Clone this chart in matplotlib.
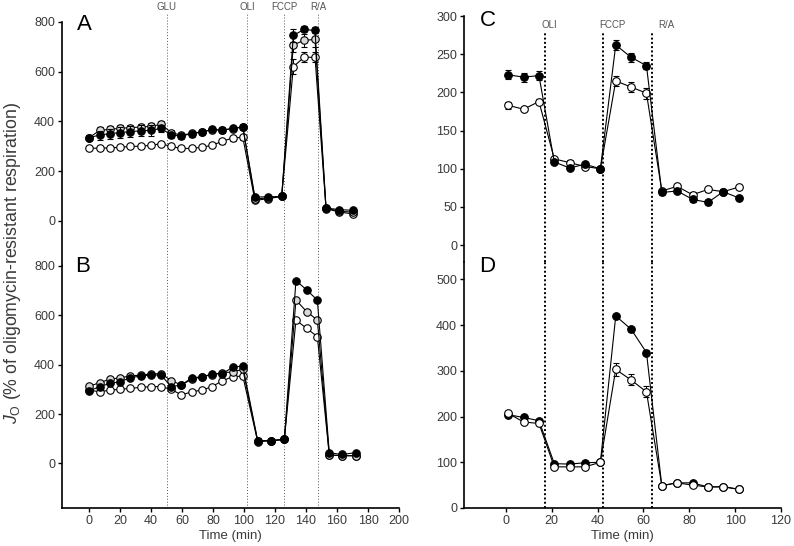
import matplotlib
matplotlib.use("Agg")
import matplotlib.pyplot as plt
import numpy as np

plt.rcParams['font.family'] = ['Liberation Sans', 'DejaVu Sans']
plt.rcParams['mathtext.fontset'] = 'custom'
plt.rcParams['mathtext.rm'] = 'Liberation Sans'
plt.rcParams['mathtext.it'] = 'Liberation Sans:italic'

# ---------------- data ----------------
# Panel A (left, top)
time_A = [0.2, 6.8, 13.4, 20.0, 26.6, 33.2, 39.8, 46.4, 53.0, 59.6, 66.2, 72.8, 79.4, 86.0, 92.6, 99.2,
          107.0, 115.7, 124.3, 131.8, 138.7, 145.8, 152.9, 161.5, 170.1]
A_black = [335, 345, 351, 355, 359, 362, 364, 372, 345, 341, 351, 357, 368, 364, 372, 377,
           96, 96, 98, 746, 770, 766, 51, 45, 42]
A_grey = [335, 364, 368, 372, 375, 377, 380, 388, 355, 344, 352, 358, 366, 366, 370, 378,
          88, 92, 98, 708, 726, 730, 51, 38, 35]
A_white = [291, 293, 293, 296, 299, 300, 304, 310, 299, 291, 291, 296, 304, 320, 333, 336,
           82, 89, 98, 620, 658, 658, 49, 35, 28]
A_black_err = [10, 18, 20, 22, 22, 22, 22, 15, 12, 12, 12, 10, 10, 10, 10, 10,
               8, 8, 6, 25, 12, 12, 6, 6, 6]
A_grey_err = [10, 12, 12, 12, 12, 12, 12, 12, 10, 10, 10, 10, 10, 10, 10, 10,
              6, 6, 6, 30, 25, 30, 6, 6, 6]
A_white_err = [8, 8, 8, 8, 8, 8, 8, 8, 8, 8, 8, 8, 8, 10, 10, 10,
               6, 6, 6, 30, 20, 20, 6, 6, 6]

# Panel B (left, bottom)
time_B = [0.2, 6.8, 13.4, 20.0, 26.6, 33.2, 39.8, 46.4, 53.0, 59.6, 66.2, 72.8, 79.4, 86.0, 92.6, 99.2,
          108.8, 117.2, 126.0, 133.5, 140.4, 147.3, 155.0, 163.0, 172.0]
B_black = [294, 311, 324, 331, 347, 354, 358, 358, 311, 318, 346, 351, 362, 364, 389, 395,
           92, 92, 97, 741, 703, 662, 43, 36, 43]
B_grey = [313, 327, 341, 347, 354, 358, 362, 364, 335, 318, 341, 351, 360, 367, 371, 381,
          90, 92, 97, 662, 615, 581, 34, 31, 31]
B_white = [297, 290, 297, 300, 304, 308, 311, 311, 300, 277, 290, 297, 311, 335, 351, 354,
           88, 92, 97, 581, 547, 514, 34, 31, 31]

# Panel C (right, top)
time_CD = [1.0, 7.7, 14.4, 21.1, 27.8, 34.5, 41.2, 47.9, 54.6, 61.3, 68.0, 74.7, 81.4, 88.1, 94.8, 101.5]
C_black = [223, 220, 222, 109, 101, 106, 100, 262, 246, 235, 69, 71, 60, 56, 70, 62]
C_white = [183, 178, 188, 113, 108, 103, 100, 215, 207, 199, 71, 77, 66, 73, 70, 76]
C_black_err = [6, 6, 6, 3, 3, 3, 3, 7, 6, 5, 3, 3, 3, 3, 3, 3]
C_white_err = [5, 3, 3, 3, 3, 3, 3, 7, 6, 7, 3, 3, 3, 3, 3, 3]

# Panel D (right, bottom)
D_black = [204, 198, 191, 97, 96, 99, 100, 420, 391, 340, 49, 55, 55, 46, 46, 41]
D_white = [207, 188, 185, 90, 90, 90, 100, 303, 280, 254, 49, 55, 50, 46, 47, 41]
D_black_err = [4, 4, 4, 3, 3, 3, 3, 5, 5, 5, 3, 3, 3, 3, 3, 3]
D_white_err = [4, 4, 4, 3, 3, 3, 3, 15, 12, 12, 3, 3, 3, 3, 3, 3]

events_left = [50, 102, 126, 148]
events_left_labels = ['GLU', 'OLI', 'FCCP', 'R/A']
events_right = [17, 42.4, 63.8]
events_right_labels = ['OLI', 'FCCP', 'R/A']
events_right_label_pos = [19, 46.3, 70]

left_xticks = list(range(0, 201, 20))
right_xticks = list(range(0, 121, 20))
left_yticks = list(range(0, 801, 200))
C_yticks = list(range(0, 301, 50))
D_yticks = list(range(0, 501, 100))

# ---------------- figure ----------------
W, H = 794, 546
fig = plt.figure(figsize=(W / 100, H / 100), dpi=100)


def fbox(x0, y0, x1, y1):
    return [x0 / W, 1 - y1 / H, (x1 - x0) / W, (y1 - y0) / H]


axA = fig.add_axes(fbox(62, 22, 399, 266))
axB = fig.add_axes(fbox(62, 266, 399, 508))
axC = fig.add_axes(fbox(464, 16, 781, 262))
axD = fig.add_axes(fbox(464, 262, 781, 508))

tick_col = '#3a3a3a'
for ax in (axA, axB, axC, axD):
    ax.spines['top'].set_visible(False)
    ax.spines['right'].set_visible(False)
    ax.spines['left'].set_linewidth(1.2)
    ax.spines['bottom'].set_linewidth(1.2)
    ax.tick_params(axis='both', direction='out', length=3, width=1, labelsize=9,
                   labelcolor=tick_col, pad=2)
    ax.set_facecolor('none')

for ax in (axA, axC):
    ax.spines['bottom'].set_visible(False)
    ax.tick_params(axis='x', bottom=False, labelbottom=False)

mk = dict(marker='o', markersize=5.4, markeredgecolor='black', markeredgewidth=0.8,
          color='black', linewidth=0.8, capsize=2, elinewidth=0.7, ecolor='black')

# Panel A
axA.errorbar(time_A, A_white, yerr=A_white_err, markerfacecolor='white', zorder=3, **mk)
axA.errorbar(time_A, A_grey, yerr=A_grey_err, markerfacecolor='#d8d8d8', zorder=4, **mk)
axA.errorbar(time_A, A_black, yerr=A_black_err, markerfacecolor='black', zorder=5, **mk)
axA.set_xlim(-17.5, 200)
axA.set_ylim(-182, 800)
axA.set_yticks(left_yticks)

# Panel B
lk = dict(marker='o', markersize=5.4, markeredgecolor='black', markeredgewidth=0.8,
          color='black', linewidth=0.8)
axB.plot(time_B, B_white, markerfacecolor='white', zorder=3, **lk)
axB.plot(time_B, B_grey, markerfacecolor='#d8d8d8', zorder=4, **lk)
axB.plot(time_B, B_black, markerfacecolor='black', zorder=5, **lk)
axB.set_xlim(-17.5, 200)
axB.set_ylim(-181, 800)
axB.set_yticks(left_yticks)
axB.set_xticks(left_xticks)
axB.set_xlabel('Time (min)', fontsize=9.5, color=tick_col, labelpad=2)

# event lines, left
for x, lab in zip(events_left, events_left_labels):
    axA.axvline(x, ymin=0, ymax=1.033, color='#555555', linestyle=(0, (1, 2)), linewidth=0.7,
                clip_on=False, zorder=1)
    axB.axvline(x, color='#555555', linestyle=(0, (1, 2)), linewidth=0.7, zorder=1)
    axA.text(x, 1.06, lab, transform=axA.get_xaxis_transform(), ha='center', va='center',
             fontsize=7, color='#555555')

# Panel C
mk2 = dict(marker='o', markersize=5.5, markeredgecolor='black', markeredgewidth=0.8,
           color='black', linewidth=0.8, capsize=2.5, elinewidth=0.7, ecolor='black')
axC.errorbar(time_CD, C_white, yerr=C_white_err, markerfacecolor='white', zorder=3, **mk2)
axC.errorbar(time_CD, C_black, yerr=C_black_err, markerfacecolor='black', zorder=4, **mk2)
axC.set_xlim(-18.3, 120)
axC.set_ylim(-22, 300)
axC.set_yticks(C_yticks)

# Panel D
axD.errorbar(time_CD, D_black, yerr=D_black_err, markerfacecolor='black', zorder=3, **mk2)
axD.errorbar(time_CD, D_white, yerr=D_white_err, markerfacecolor='white', zorder=4, **mk2)
axD.set_xlim(-18.3, 120)
axD.set_ylim(0, 538)
axD.set_yticks(D_yticks)
axD.set_xticks(right_xticks)
axD.set_xlabel('Time (min)', fontsize=9.5, color=tick_col, labelpad=2)

for x, lab, lx in zip(events_right, events_right_labels, events_right_label_pos):
    axC.axvline(x, ymin=0, ymax=0.93, color='black', linestyle=(0, (1, 1.2)), linewidth=1.4, zorder=1)
    axD.axvline(x, color='black', linestyle=(0, (1, 1.2)), linewidth=1.4, zorder=1)
    axC.text(lx, 0.965, lab, transform=axC.get_xaxis_transform(), ha='center', va='center',
             fontsize=7, color='#555555')

# panel letters
fig.text(84 / W, 1 - 24 / H, 'A', fontsize=16, ha='center', va='center')
fig.text(83 / W, 1 - 267 / H, 'B', fontsize=16, ha='center', va='center')
fig.text(488 / W, 1 - 20 / H, 'C', fontsize=16, ha='center', va='center')
fig.text(487 / W, 1 - 267 / H, 'D', fontsize=16, ha='center', va='center')

# y label
fig.text(13 / W, 1 - 263 / H, r'$J_{\mathrm{O}}$ (% of oligomycin-resistant respiration)', rotation=90,
         ha='center', va='center', fontsize=12.8, color=tick_col)

fig.savefig('out.png', dpi=100)
